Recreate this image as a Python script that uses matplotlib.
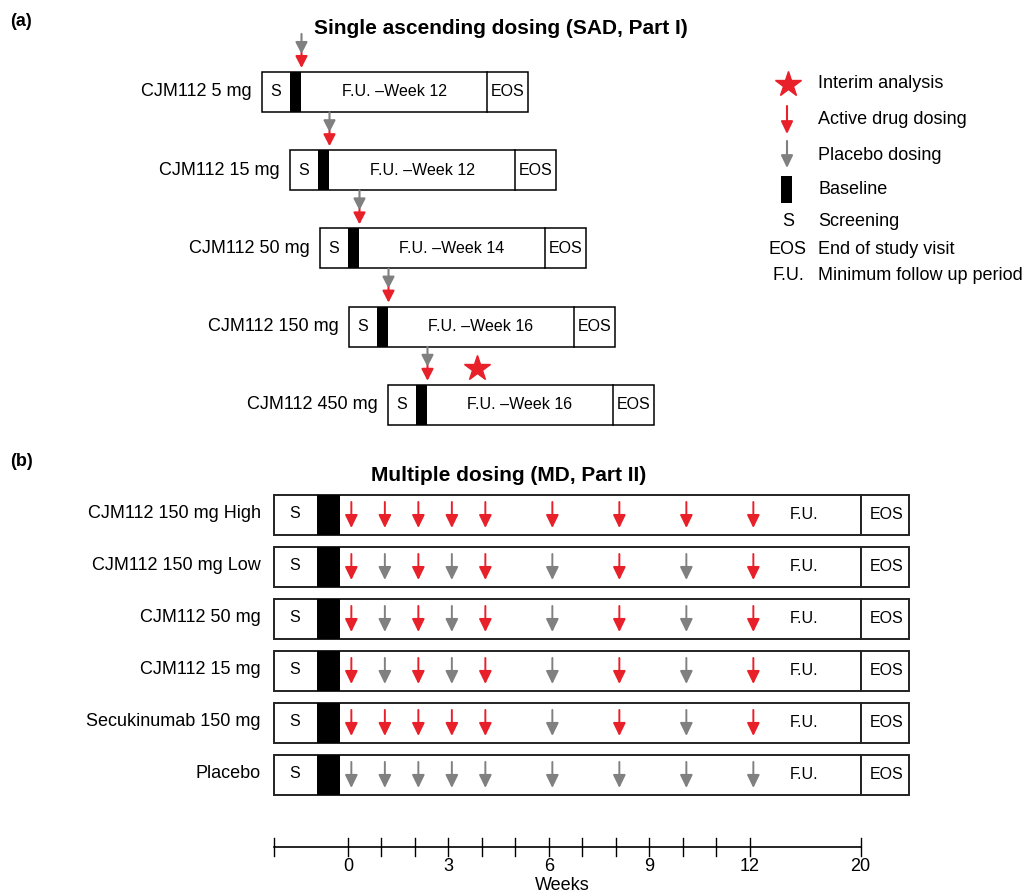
import numpy as np
import matplotlib.pyplot as plt
from matplotlib.patches import Rectangle

plt.rcParams['font.family'] = ['Liberation Sans', 'DejaVu Sans']

RED = '#e8202a'
GREY = '#808080'

# ---- part (a): single ascending dosing ----
sad_labels = ['CJM112 5 mg', 'CJM112 15 mg', 'CJM112 50 mg', 'CJM112 150 mg', 'CJM112 450 mg']
sad_fu_weeks = [12, 12, 14, 16, 16]
interim_cohort = 4  # interim analysis after the last cohort is dosed

# ---- part (b): multiple dosing ----
md_labels = ['CJM112 150 mg High', 'CJM112 150 mg Low', 'CJM112 50 mg',
             'CJM112 15 mg', 'Secukinumab 150 mg', 'Placebo']
dose_weeks = [0, 1, 2, 3, 4, 6, 8, 10, 12]
# 1 = active drug, 0 = placebo
md_active = [
    [1, 1, 1, 1, 1, 1, 1, 1, 1],
    [1, 0, 1, 0, 1, 0, 1, 0, 1],
    [1, 0, 1, 0, 1, 0, 1, 0, 1],
    [1, 0, 1, 0, 1, 0, 1, 0, 1],
    [1, 1, 1, 1, 1, 0, 1, 0, 1],
    [0, 0, 0, 0, 0, 0, 0, 0, 0],
]
axis_weeks = [0, 1, 2, 3, 4, 5, 6, 7, 8, 9, 10, 11, 12, 20]
labeled_weeks = [0, 3, 6, 9, 12, 20]

legend_items = [('star', 'Interim analysis'), ('red', 'Active drug dosing'),
                ('grey', 'Placebo dosing'), ('base', 'Baseline'),
                ('S', 'Screening'), ('EOS', 'End of study visit'),
                ('F.U.', 'Minimum follow up period')]


def week_pos(w):
    # axis is broken after week 12
    return np.interp(w, [0, 12, 20], [0, 12, 15.3])


def down_arrow(ax, x, y0, y1, color, lw=1.3, hl=0.7, hw=0.36):
    ax.annotate('', xy=(x, y1), xytext=(x, y0),
                arrowprops=dict(arrowstyle=f'-|>,head_length={hl},head_width={hw}',
                                color=color, lw=lw, shrinkA=0, shrinkB=0))


fig = plt.figure(figsize=(10.28, 8.94), dpi=100)

# top panel in pixel-like units
ax_a = fig.add_axes([0, 444 / 894, 1, 450 / 894])
ax_a.set_xlim(0, 1028)
ax_a.set_ylim(450, 0)
ax_a.axis('off')

ax_a.text(10, 22, '(a)', fontsize=13, fontweight='bold', va='center')
ax_a.text(501, 28, 'Single ascending dosing (SAD, Part I)', fontsize=15,
          fontweight='bold', ha='center', va='center')

sad_left = [262, 290, 320, 349, 388]
for i, (lab, wk) in enumerate(zip(sad_labels, sad_fu_weeks)):
    left = sad_left[i]
    top = 72 + 78.2 * i
    ax_a.add_patch(Rectangle((left, top), 266, 40, fc='white', ec='black', lw=1.1))
    ax_a.add_patch(Rectangle((left + 28, top), 11, 40, fc='black', ec='black', lw=0))
    ax_a.plot([left + 225, left + 225], [top, top + 40], color='black', lw=1.1)
    cy = top + 20
    ax_a.text(left - 10, cy, lab, fontsize=13, ha='right', va='center')
    ax_a.text(left + 14, cy, 'S', fontsize=11.5, ha='center', va='center')
    ax_a.text(left + 132, cy, f'F.U. \u2013Week {wk}', fontsize=11.5, ha='center', va='center')
    ax_a.text(left + 246, cy, 'EOS', fontsize=11.5, ha='center', va='center')
    ax_x = left + 39.5
    down_arrow(ax_a, ax_x, top - 38, top - 18, GREY, lw=1.5, hl=0.7, hw=0.36)
    down_arrow(ax_a, ax_x, top - 19, top - 4, RED, lw=1.5, hl=0.7, hw=0.36)
    if i == interim_cohort:
        ax_a.plot(left + 89, top - 17, marker='*', ms=19, color=RED, mec=RED)

# legend
ly = [84, 119, 155, 189, 221, 250, 276]
for (kind, txt), y in zip(legend_items, ly):
    if kind == 'star':
        ax_a.plot(788, y, marker='*', ms=19, color=RED, mec=RED)
    elif kind == 'red':
        down_arrow(ax_a, 787, y - 13, y + 15, RED, lw=1.5, hl=0.75, hw=0.36)
    elif kind == 'grey':
        down_arrow(ax_a, 787, y - 14, y + 13, GREY, lw=1.5, hl=0.75, hw=0.36)
    elif kind == 'base':
        ax_a.add_patch(Rectangle((781, y - 13), 11, 27, fc='black', ec='black', lw=0))
    else:
        ax_a.text(788, y, kind, fontsize=13, ha='center', va='center')
    ax_a.text(818, y, txt, fontsize=13, ha='left', va='center')

# bottom panel: x in (broken) weeks, y in row units
ax_b = fig.add_axes([0, 0, 1, 444 / 894])
ax_b.set_xlim(-348 / 33.5, (1028 - 348) / 33.5)
ax_b.set_ylim(7.29, -1.25)
ax_b.axis('off')

ax_b.text(-10.09, -1.02, '(b)', fontsize=13, fontweight='bold', va='center')
ax_b.text(4.78, -0.75, 'Multiple dosing (MD, Part II)', fontsize=15,
          fontweight='bold', ha='center', va='center')

x_start = -2.2
x_end = week_pos(20)
x_eos = 16.75
h = 0.77
for r, (lab, act) in enumerate(zip(md_labels, md_active)):
    ax_b.add_patch(Rectangle((x_start, r - h / 2), x_end - x_start, h,
                             fc='white', ec='#222222', lw=1.4))
    ax_b.add_patch(Rectangle((x_end, r - h / 2), x_eos - x_end, h,
                             fc='white', ec='#222222', lw=1.4))
    ax_b.add_patch(Rectangle((-0.93, r - h / 2), 0.69, h, fc='black', ec='black', lw=0))
    ax_b.text(x_start - 0.4, r - 0.03, lab, fontsize=13, ha='right', va='center')
    ax_b.text(-1.58, r - 0.03, 'S', fontsize=11.5, ha='center', va='center')
    ax_b.text(13.6, r, 'F.U.', fontsize=11.5, ha='center', va='center')
    ax_b.text(16.07, r, 'EOS', fontsize=11.5, ha='center', va='center')
    for w, a in zip(dose_weeks, act):
        down_arrow(ax_b, week_pos(w) + 0.1, r - 0.25, r + 0.25, RED if a else GREY,
                   lw=1.4, hl=0.78, hw=0.38)

# week axis
ya = 6.385
ax_b.plot([x_start, x_end], [ya, ya], color='black', lw=1.2)
tick_x = [x_start] + [week_pos(w) for w in axis_weeks]
for tx in tick_x:
    ax_b.plot([tx, tx], [ya - 0.17, ya + 0.17], color='black', lw=1.0)
for w in labeled_weeks:
    ax_b.text(week_pos(w), ya + 0.38, str(w), fontsize=13, ha='center', va='center')
ax_b.text(6.39, 7.12, 'Weeks', fontsize=13, ha='center', va='center')

fig.savefig('out.png', dpi=100)
